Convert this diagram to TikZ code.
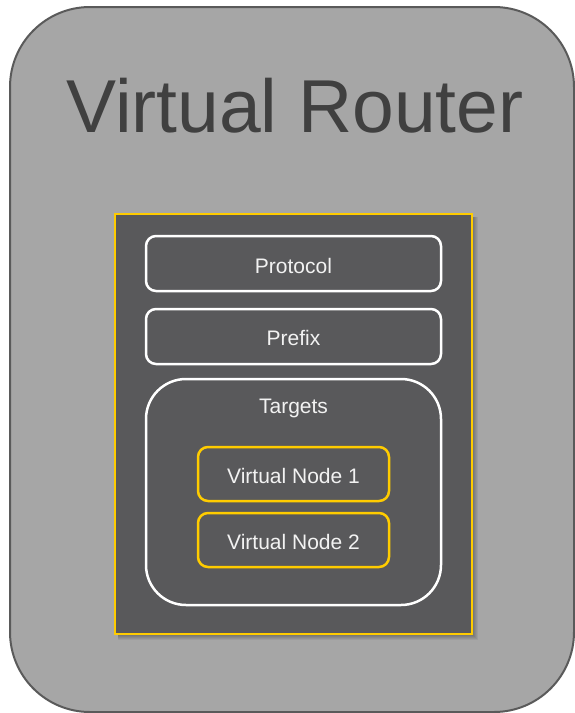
\documentclass[tikz,border=0pt]{standalone}
\usepackage{fontspec}
\setmainfont{Liberation Sans}
\definecolor{outerfill}{HTML}{A6A6A6}
\definecolor{outerline}{HTML}{5A5A5A}
\definecolor{panelfill}{HTML}{59595B}
\definecolor{ylw}{HTML}{FFCC00}
\definecolor{titletext}{HTML}{404040}
\definecolor{lbltext}{HTML}{F2F2F2}
\begin{document}
\begin{tikzpicture}[x=1pt,y=-1pt,
  outerbox/.style={draw=outerline,line width=2pt,fill=outerfill,rounded corners=80pt,inner sep=0pt},
  panel/.style={draw=ylw,line width=2.5pt,fill=panelfill,inner sep=0pt},
  whitebox/.style={draw=white,line width=2.5pt,rounded corners=10pt,inner sep=0pt},
  groupbox/.style={draw=white,line width=2.5pt,rounded corners=40pt,inner sep=0pt},
  vnbox/.style={draw=ylw,line width=2.5pt,rounded corners=10pt,inner sep=0pt},
  lbl/.style={text=lbltext,font=\fontsize{21}{21}\selectfont,anchor=base,inner sep=0pt},
  titlelbl/.style={text=titletext,font=\fontsize{75}{75}\selectfont,anchor=base,inner sep=0pt}]
\useasboundingbox (0,0) rectangle (575,713);
\node[outerbox,minimum width=564pt,minimum height=705pt] (router) at (292,359.5) {};
\node[titlelbl] (title) at (295,132) {Virtual Router};
% soft shadow of the panel
\foreach \d in {1,...,6}{
  \fill[black,opacity=0.06] (118,217) rectangle (472+\d,634+\d);
}
\node[panel,minimum width=357pt,minimum height=420pt] (panel) at (293.5,424) {};
\node[whitebox,minimum width=295pt,minimum height=55pt] (protocol) at (293.5,263.5) {};
\node[lbl] (protocoltxt) at (293.5,273) {Protocol};
\node[whitebox,minimum width=295pt,minimum height=55pt] (prefix) at (293.5,336.5) {};
\node[lbl] (prefixtxt) at (293.5,345) {Prefix};
\node[groupbox,minimum width=295pt,minimum height=226pt] (targets) at (293.5,492) {};
\node[lbl] (targetstxt) at (293.5,413) {Targets};
\node[vnbox,minimum width=191pt,minimum height=54pt] (vn1) at (293.5,474) {};
\node[lbl] (vn1txt) at (293.5,483) {Virtual Node 1};
\node[vnbox,minimum width=191pt,minimum height=54pt] (vn2) at (293.5,540) {};
\node[lbl] (vn2txt) at (293.5,549) {Virtual Node 2};
\end{tikzpicture}
\end{document}
